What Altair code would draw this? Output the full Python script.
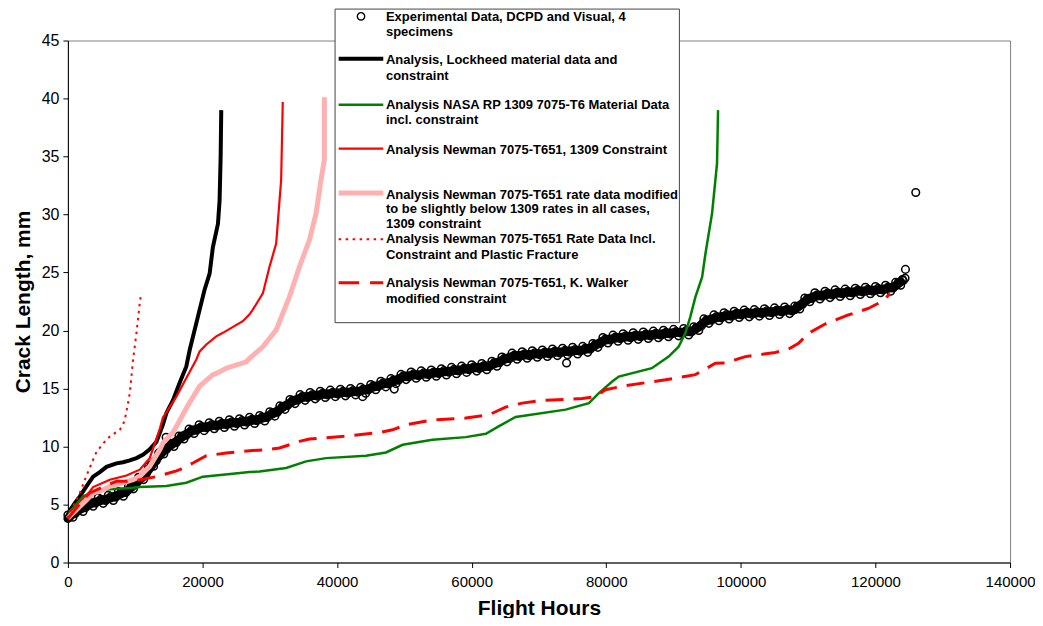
import altair as alt
import pandas as pd

# ---------------- data ----------------
# Centre of the dense band of experimental points
band_x = [0, 750, 1500, 2250, 3000, 3750, 4500, 5250, 6000, 6750, 7500, 8250, 9000, 9750, 10500,
          11250, 12000, 12750, 13500, 14250, 15000, 15750, 16500, 17250, 18000, 18750, 19500, 20250,
          21000, 21750, 22500, 23250, 24000, 24750, 25500, 26250, 27000, 27750, 28500, 29250, 30000,
          30750, 31500, 32250, 33000, 33750, 34500, 35250, 36000, 36750, 37500, 38250, 39000, 39750,
          40500, 41250, 42000, 42750, 43500, 44250, 45000, 45750, 46500, 47250, 48000, 48750, 49500,
          50250, 51000, 51750, 52500, 53250, 54000, 54750, 55500, 56250, 57000, 57750, 58500, 59250,
          60000, 60750, 61500, 62250, 63000, 63750, 64500, 65250, 66000, 66750, 67500, 68250, 69000,
          69750, 70500, 71250, 72000, 72750, 73500, 74250, 75000, 75750, 76500, 77250, 78000, 78750,
          79500, 80250, 81000, 81750, 82500, 83250, 84000, 84750, 85500, 86250, 87000, 87750, 88500,
          89250, 90000, 90750, 91500, 92250, 93000, 93750, 94500, 95250, 96000, 96750, 97500, 98250,
          99000, 99750, 100500, 101250, 102000, 102750, 103500, 104250, 105000, 105750, 106500,
          107250, 108000, 108750, 109500, 110250, 111000, 111750, 112500, 113250, 114000, 114750,
          115500, 116250, 117000, 117750, 118500, 119250, 120000, 120750, 121500, 122250, 123000,
          123750]
band_y = [3.8, 4.2, 4.5, 4.7, 4.95, 5.15, 5.28, 5.4, 5.5, 5.65,
          5.82, 6.02, 6.25, 6.65, 7.05, 7.45, 8.0, 8.6, 9.15, 9.65,
          10.0, 10.3, 10.6, 10.95, 11.2, 11.42, 11.58, 11.67, 11.75, 11.83,
          11.88, 11.94, 12.0, 12.05, 12.1, 12.16, 12.22, 12.28, 12.37, 12.5,
          12.7, 12.92, 13.2, 13.5, 13.75, 14.0, 14.17, 14.28, 14.35, 14.41,
          14.47, 14.52, 14.56, 14.6, 14.63, 14.67, 14.7, 14.75, 14.8, 14.9,
          15.05, 15.2, 15.33, 15.44, 15.55, 15.72, 15.92, 16.07, 16.13, 16.18,
          16.22, 16.27, 16.3, 16.36, 16.41, 16.47, 16.52, 16.58, 16.63, 16.69,
          16.75, 16.8, 16.86, 16.92, 17.05, 17.22, 17.42, 17.6, 17.75, 17.82,
          17.87, 17.91, 17.95, 17.99, 18.02, 18.06, 18.1, 18.14, 18.17, 18.21,
          18.25, 18.28, 18.33, 18.42, 18.58, 18.85, 19.1, 19.23, 19.3, 19.37,
          19.42, 19.46, 19.5, 19.54, 19.57, 19.61, 19.65, 19.68, 19.72, 19.76,
          19.8, 19.84, 19.87, 19.91, 20.02, 20.3, 20.7, 20.92, 21.05, 21.15,
          21.23, 21.3, 21.36, 21.42, 21.46, 21.48, 21.5, 21.54, 21.57, 21.6,
          21.65, 21.68, 21.72, 21.76, 21.8, 22.15, 22.5, 22.78, 22.95, 23.02,
          23.09, 23.14, 23.2, 23.24, 23.27, 23.3, 23.35, 23.4, 23.43, 23.47,
          23.5, 23.55, 23.6, 23.68, 23.85, 24.2]

# Experimental data: four tracks read through the band of specimen points
exp_a_x = [0, 1500, 3000, 4500, 6000, 7500, 9000, 10500, 12000, 13500, 15000, 16500, 18000, 19500,
           21000, 22500, 24000, 25500, 27000, 28500, 30000, 31500, 33000, 34500, 36000, 37500, 39000,
           40500, 42000, 43500, 45000, 46500, 48000, 49500, 51000, 52500, 54000, 55500, 57000, 58500,
           60000, 61500, 63000, 64500, 66000, 67500, 69000, 70500, 72000, 73500, 75000, 76500, 78000,
           79500, 81000, 82500, 84000, 85500, 87000, 88500, 90000, 91500, 93000, 94500, 96000, 97500,
           99000, 100500, 102000, 103500, 105000, 106500, 108000, 109500, 111000, 112500, 114000,
           115500, 117000, 118500, 120000, 121500, 123000]
exp_a_y = [4.1, 4.8, 5.25, 5.58, 5.8, 6.12, 6.55, 7.35, 8.3, 9.45,
           10.3, 10.9, 11.5, 11.88, 12.05, 12.18, 12.3, 12.4, 12.52, 12.67,
           13.0, 13.5, 14.05, 14.47, 14.65, 14.77, 14.86, 14.93, 15.0, 15.1,
           15.35, 15.63, 15.85, 16.22, 16.43, 16.52, 16.6, 16.71, 16.82, 16.93,
           17.05, 17.16, 17.35, 17.72, 18.05, 18.17, 18.25, 18.32, 18.4, 18.47,
           18.55, 18.63, 18.88, 19.4, 19.6, 19.72, 19.8, 19.87, 19.95, 20.02,
           20.1, 20.17, 20.32, 21.0, 21.35, 21.53, 21.66, 21.76, 21.8, 21.87,
           21.95, 22.02, 22.1, 22.8, 23.25, 23.39, 23.5, 23.57, 23.65, 23.73,
           23.8, 23.9, 24.15]
exp_b_x = [750, 2250, 3750, 5250, 6750, 8250, 9750, 11250, 12750, 14250, 15750, 17250, 18750, 20250,
           21750, 23250, 24750, 26250, 27750, 29250, 30750, 32250, 33750, 35250, 36750, 38250, 39750,
           41250, 42750, 44250, 45750, 47250, 48750, 50250, 51750, 53250, 54750, 56250, 57750, 59250,
           60750, 62250, 63750, 65250, 66750, 68250, 69750, 71250, 72750, 74250, 75750, 77250, 78750,
           80250, 81750, 83250, 84750, 86250, 87750, 89250, 90750, 92250, 93750, 95250, 96750, 98250,
           99750, 101250, 102750, 104250, 105750, 107250, 108750, 110250, 111750, 113250, 114750,
           116250, 117750, 119250, 120750, 122250, 123750]
exp_b_y = [3.9, 4.4, 4.85, 5.1, 5.35, 5.72, 6.35, 7.15, 8.3, 9.35,
           10.0, 10.65, 11.12, 11.37, 11.53, 11.64, 11.75, 11.86, 11.98, 12.2,
           12.62, 13.2, 13.7, 13.98, 14.11, 14.22, 14.3, 14.37, 14.45, 14.6,
           14.9, 15.14, 15.42, 15.77, 15.88, 15.97, 16.06, 16.17, 16.28, 16.39,
           16.5, 16.62, 16.92, 17.3, 17.52, 17.61, 17.69, 17.76, 17.84, 17.91,
           17.98, 18.12, 18.55, 18.93, 19.07, 19.16, 19.24, 19.31, 19.38, 19.46,
           19.54, 19.61, 20.0, 20.62, 20.85, 21.0, 21.12, 21.18, 21.24, 21.3,
           21.38, 21.46, 21.85, 22.48, 22.72, 22.84, 22.94, 23.0, 23.1, 23.17,
           23.25, 23.38, 23.9]
exp_c_x = [375, 1875, 3375, 4875, 6375, 7875, 9375, 10875, 12375, 13875, 15375, 16875, 18375, 19875,
           21375, 22875, 24375, 25875, 27375, 28875, 30375, 31875, 33375, 34875, 36375, 37875, 39375,
           40875, 42375, 43875, 45375, 46875, 48375, 49875, 51375, 52875, 54375, 55875, 57375, 58875,
           60375, 61875, 63375, 64875, 66375, 67875, 69375, 70875, 72375, 73875, 75375, 76875, 78375,
           79875, 81375, 82875, 84375, 85875, 87375, 88875, 90375, 91875, 93375, 94875, 96375, 97875,
           99375, 100875, 102375, 103875, 105375, 106875, 108375, 109875, 111375, 112875, 114375,
           115875, 117375, 118875, 120375, 121875, 123375]
exp_c_y = [4.1, 4.7, 5.15, 5.44, 5.68, 6.02, 6.55, 7.35, 8.4, 9.5,
           10.25, 10.88, 11.41, 11.73, 11.89, 12.01, 12.13, 12.23, 12.35, 12.54,
           12.91, 13.45, 13.98, 14.33, 14.48, 14.6, 14.68, 14.75, 14.83, 14.95,
           15.23, 15.49, 15.74, 16.1, 16.26, 16.35, 16.43, 16.54, 16.65, 16.76,
           16.88, 16.99, 17.24, 17.61, 17.89, 17.99, 18.07, 18.14, 18.22, 18.29,
           18.37, 18.48, 18.82, 19.27, 19.44, 19.54, 19.62, 19.69, 19.77, 19.84,
           19.92, 19.99, 20.26, 20.91, 21.2, 21.37, 21.49, 21.57, 21.62, 21.69,
           21.77, 21.84, 22.08, 22.74, 23.09, 23.22, 23.32, 23.39, 23.48, 23.55,
           23.63, 23.74, 24.13]
exp_d_x = [1125, 2625, 4125, 5625, 7125, 8625, 10125, 11625, 13125, 14625, 16125, 17625, 19125, 20625,
           22125, 23625, 25125, 26625, 28125, 29625, 31125, 32625, 34125, 35625, 37125, 38625, 40125,
           41625, 43125, 44625, 46125, 47625, 49125, 50625, 52125, 53625, 55125, 56625, 58125, 59625,
           61125, 62625, 64125, 65625, 67125, 68625, 70125, 71625, 73125, 74625, 76125, 77625, 79125,
           80625, 82125, 83625, 85125, 86625, 88125, 89625, 91125, 92625, 94125, 95625, 97125, 98625,
           100125, 101625, 103125, 104625, 106125, 107625, 109125, 110625, 112125, 113625, 115125,
           116625, 118125, 119625, 121125, 122625, 124125]
exp_d_y = [4.25, 4.73, 5.12, 5.35, 5.64, 6.04, 6.75, 7.63, 8.78, 9.73,
           10.35, 10.98, 11.4, 11.61, 11.76, 11.87, 11.98, 12.09, 12.23, 12.5,
           12.96, 13.53, 13.99, 14.22, 14.34, 14.44, 14.52, 14.59, 14.68, 14.88,
           15.17, 15.4, 15.72, 16.0, 16.1, 16.19, 16.29, 16.4, 16.51, 16.62,
           16.73, 16.89, 17.22, 17.58, 17.75, 17.83, 17.91, 17.98, 18.06, 18.13,
           18.21, 18.4, 18.88, 19.17, 19.3, 19.38, 19.46, 19.53, 19.6, 19.68,
           19.76, 19.87, 20.4, 20.89, 21.09, 21.23, 21.34, 21.39, 21.46, 21.53,
           21.6, 21.68, 22.23, 22.77, 22.96, 23.07, 23.16, 23.23, 23.32, 23.39,
           23.48, 23.67, 24.3]
exp_out_x = [14600, 43800, 48500, 74100, 124000, 124400, 124460, 125990]
exp_out_y = [10.8, 14.3, 14.95, 17.2, 24.4, 24.5, 25.27, 31.9]

lockheed_x = [0, 300, 1000, 1780, 2800, 3750, 4750, 5740, 7220, 8200, 9200, 10190, 11200, 12160,
              13150, 14130, 14640, 15620, 16610, 17600, 18090, 19580, 20300, 21060, 21550, 22300,
              22540, 22700, 22790]
lockheed_y = [3.7, 4.5, 5.1, 5.7, 6.6, 7.4, 7.8, 8.25, 8.55, 8.65, 8.8, 9.0, 9.3, 9.75,
              10.4, 11.9, 12.9, 14.0, 15.5, 16.9, 18.3, 21.8, 23.5, 24.9, 27.2, 29.2,
              31.2, 35.0, 39.0]

nasa_x = [0, 300, 2270, 4750, 9690, 10680, 14640, 17600, 20070, 24500, 27000, 28480, 32430, 35400,
          38370, 44300, 47270, 49740, 54180, 59130, 62110, 64070, 66540, 73960, 77420, 78900, 80880,
          81870, 86770, 89270, 90750, 91740, 92500, 93250, 94240, 94730, 95720, 96220, 96460, 96610]
nasa_y = [3.8, 4.4, 5.7, 6.25, 6.45, 6.5, 6.6, 6.88, 7.4, 7.66, 7.8, 7.85, 8.15, 8.72,
          9.0, 9.2, 9.49, 10.15, 10.58, 10.81, 11.1, 11.76, 12.55, 13.18, 13.74, 14.6, 15.6,
          16.03, 16.75, 17.75, 18.6, 19.76, 21.2, 22.9, 24.6, 26.6, 30.1, 33.0, 34.4, 39.0]

newman_x = [0, 790, 1290, 3260, 3750, 5740, 6230, 8700, 10680, 12160, 13650, 14130, 15120, 16120,
            17600, 19090, 19580, 20570, 22050, 23030, 25990, 27000, 27480, 28970, 29960, 30950,
            31690, 31930]
newman_y = [3.8, 4.3, 4.84, 6.13, 6.5, 7.0, 7.14, 7.5, 8.0, 9.0, 11.5, 12.5, 13.4, 14.3,
            15.9, 17.5, 18.2, 18.8, 19.5, 19.8, 20.8, 21.4, 21.8, 23.2, 25.5, 27.5,
            33.0, 39.7]

modified_x = [0, 300, 1290, 2770, 3750, 4750, 6230, 7220, 9690, 10680, 12160, 13650, 14130, 15620,
              16120, 17600, 18090, 19580, 21550, 22050, 23530, 26500, 27000, 28970, 30950, 32920,
              34410, 35890, 36880, 37620, 38110, 38110]
modified_y = [3.8, 4.0, 4.56, 5.4, 6.0, 6.13, 6.57, 6.7, 7.14, 7.43, 8.29, 9.72, 10.3, 11.2,
              11.73, 13.3, 13.8, 15.2, 16.2, 16.3, 16.75, 17.3, 17.6, 18.6, 20.05, 22.9,
              25.5, 27.8, 30.1, 33.0, 34.7, 40.1]

plastic_x = [0, 50, 1780, 2770, 4250, 5740, 6230, 7710, 8200, 8450, 8700, 9200, 9690, 10190, 10680, 10830]
plastic_y = [3.8, 4.0, 6.0, 7.5, 9.55, 10.6, 10.85, 11.45, 11.9, 12.3, 13.0, 14.6, 17.5, 19.8, 22.35, 23.0]

walker_x = [0, 2270, 3260, 4750, 7220, 8700, 10680, 13150, 13650, 16120, 16610, 18580, 20570, 23530,
            27000, 29470, 31440, 34410, 35890, 41820, 46270, 48240, 50220, 54180, 59130, 62550,
            65030, 67510, 70490, 76430, 78410, 79890, 82860, 88800, 93250, 96220, 97690, 100660,
            105110, 107090, 108570, 110050, 112510, 115970, 118940, 121160, 122150]
walker_y = [3.8, 5.4, 6.0, 6.4, 7.0, 7.0, 7.14, 7.4, 7.49, 7.9, 8.0, 8.58, 9.2, 9.44,
            9.64, 9.72, 9.87, 10.44, 10.64, 10.93, 11.21, 11.44, 11.87, 12.3, 12.45, 12.73,
            13.4, 13.74, 13.97, 14.14, 14.3, 14.9, 15.25, 15.75, 16.2, 17.18, 17.2, 17.75,
            18.1, 18.4, 18.9, 19.76, 20.56, 21.34, 21.9, 22.57, 23.2]

x_ticks = [0, 20000, 40000, 60000, 80000, 100000, 120000, 140000]
y_ticks = [0, 5, 10, 15, 20, 25, 30, 35, 40, 45]

legend_lines = [
    ["Experimental Data, DCPD and Visual, 4", "specimens"],
    ["Analysis, Lockheed material data and", "constraint"],
    ["Analysis NASA RP 1309 7075-T6 Material Data", "incl. constraint"],
    ["Analysis Newman 7075-T651, 1309 Constraint"],
    ["Analysis Newman 7075-T651 rate data modified", "to be slightly below 1309 rates in all cases,",
     "1309 constraint"],
    ["Analysis Newman 7075-T651 Rate Data Incl.", "Constraint and Plastic Fracture"],
    ["Analysis Newman 7075-T651, K. Walker", "modified constraint"],
]

# ---------------- chart ----------------
W, H = 944, 523
FONT = "Liberation Sans"

xs = alt.Scale(domain=[0, 140000], nice=False, zero=False)
ys = alt.Scale(domain=[0, 45], nice=False, zero=False)

exp_df = pd.DataFrame({
    "h": exp_a_x + exp_c_x + exp_b_x + exp_d_x + exp_out_x,
    "a": exp_a_y + exp_c_y + exp_b_y + exp_d_y + exp_out_y,
})

xaxis = alt.Axis(values=x_ticks, format="d", title="Flight Hours", grid=False, labelFlush=False,
                 labelFontSize=15, labelFont=FONT, labelColor="black", labelPadding=7,
                 tickColor="black", tickSize=5, domainColor="black",
                 titleFont=FONT, titleFontSize=21, titleFontWeight="bold", titleColor="black",
                 titlePadding=8)
yaxis = alt.Axis(values=y_ticks, title="Crack Length, mm", grid=False,
                 labelFontSize=16, labelFont=FONT, labelColor="black", labelPadding=4,
                 tickColor="black", tickSize=5, domainColor="black",
                 titleFont=FONT, titleFontSize=21, titleFontWeight="bold", titleColor="black",
                 titlePadding=8)


def line_layer(xv, yv, axes=False, **style):
    df = pd.DataFrame({"h": xv, "a": yv, "i": list(range(len(xv)))})
    if axes:
        xe = alt.X("h:Q", scale=xs, axis=xaxis)
        ye = alt.Y("a:Q", scale=ys, axis=yaxis)
    else:
        xe = alt.X("h:Q", scale=xs)
        ye = alt.Y("a:Q", scale=ys)
    return alt.Chart(df).mark_line(**style).encode(x=xe, y=ye, order="i:Q")


band_core = line_layer(band_x, band_y, axes=True, color="black", strokeWidth=9,
                       strokeJoin="round", strokeCap="round")

pts = alt.Chart(exp_df).mark_point(shape="circle", filled=False, size=58,
                                   strokeWidth=1.5, color="black", opacity=1).encode(
    x=alt.X("h:Q", scale=xs),
    y=alt.Y("a:Q", scale=ys),
)

layers = [
    band_core,
    pts,
    line_layer(lockheed_x, lockheed_y, color="black", strokeWidth=4),
    line_layer(nasa_x, nasa_y, color="#008000", strokeWidth=2.5),
    line_layer(newman_x, newman_y, color="#ff0000", strokeWidth=2.2),
    line_layer(modified_x, modified_y, color="#ffb0b0", strokeWidth=5),
    line_layer(plastic_x, plastic_y, color="#ff0000", strokeWidth=2, strokeDash=[2.5, 4.5]),
    line_layer(walker_x, walker_y, color="#ff0000", strokeWidth=3, strokeDash=[18, 10]),
]

# ---------------- hand-built legend box ----------------
one = pd.DataFrame({"k": [0]})
layers.append(alt.Chart(one).mark_rect(fill="white", stroke="#444444", strokeWidth=1).encode(
    x=alt.value(267.7), x2=alt.value(612.7), y=alt.value(-31.5), y2=alt.value(282.7)))

sym_x0, sym_x1 = 271.3, 316
sym_y = [-24.3, 18.3, 64.3, 108.3, 152.7, 199, 242.7]
layers.append(alt.Chart(one).mark_point(shape="circle", filled=False, size=55, strokeWidth=1.4,
                                        color="black", opacity=1).encode(
    x=alt.value(293.7), y=alt.value(sym_y[0])))
sym_styles = [
    dict(color="black", strokeWidth=4),
    dict(color="#008000", strokeWidth=2.5),
    dict(color="#ff0000", strokeWidth=2.2),
    dict(color="#ffb0b0", strokeWidth=5),
    dict(color="#ff0000", strokeWidth=2, strokeDash=[2.5, 4.5]),
    dict(color="#ff0000", strokeWidth=3, strokeDash=[20.5, 11]),
]
for yy, st in zip(sym_y[1:], sym_styles):
    layers.append(alt.Chart(one).mark_rule(**st).encode(
        x=alt.value(sym_x0), x2=alt.value(sym_x1), y=alt.value(yy)))

text_x = 318.7
text_y = [[-24, -9], [20, 35.7], [65, 79.3], [109.3], [154.3, 169.3, 184], [199.3, 214.7], [243.3, 259]]
for lines, ys_ in zip(legend_lines, text_y):
    for t, yy in zip(lines, ys_):
        layers.append(alt.Chart(one).mark_text(text=t, align="left", baseline="middle",
                                               font=FONT, fontSize=13, fontWeight="bold",
                                               color="black").encode(
            x=alt.value(text_x), y=alt.value(yy)))

chart = alt.layer(*layers).properties(
    width=W, height=H,
    autosize=alt.AutoSizeParams(type="none"),
    padding={"left": 60, "top": 32, "right": 25, "bottom": 55},
    background="white",
).configure_view(stroke="#808080", strokeWidth=1)

chart.save("out.html", embed_options={"renderer": "svg", "actions": False})
